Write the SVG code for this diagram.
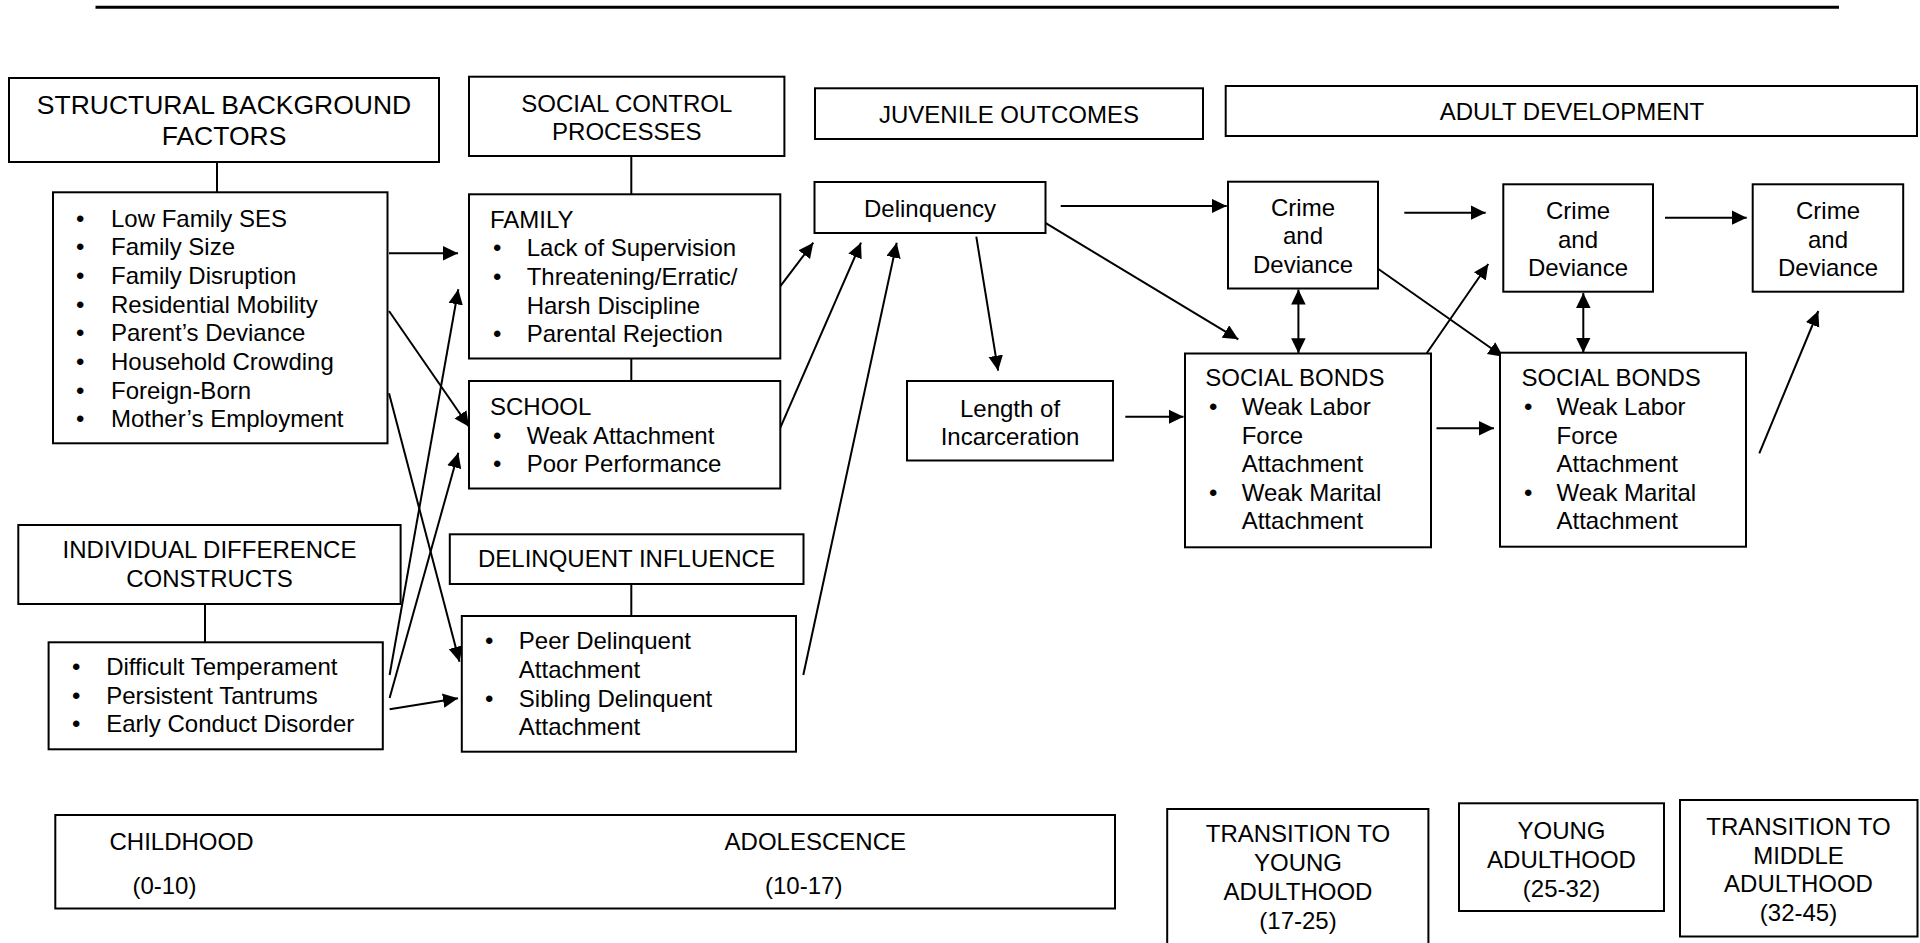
<svg xmlns="http://www.w3.org/2000/svg" width="1920" height="943" viewBox="0 0 1920 943">
<defs>
<marker id="ah" markerUnits="userSpaceOnUse" markerWidth="16" markerHeight="16" refX="15" refY="7.25" orient="auto-start-reverse">
<path d="M0,0 L15,7.25 L0,14.5 z" fill="#000"/>
</marker>
<style>
.box{fill:#fff;stroke:#000;stroke-width:2}
.t{font-family:"Liberation Sans",Arial,sans-serif;font-size:24px;fill:#000}
.c{text-anchor:middle}
.big{font-size:26.5px}
.ln{stroke:#000;stroke-width:2;fill:none}
.ar{stroke:#000;stroke-width:2;fill:none;marker-end:url(#ah)}
.dar{stroke:#000;stroke-width:2;fill:none;marker-end:url(#ah);marker-start:url(#ah)}
</style>
</defs>
<rect width="1920" height="943" fill="#fff"/>
<line x1="95.5" y1="7.3" x2="1839" y2="7.3" stroke="#000" stroke-width="3"/>

<g id="connectors">
<line class="ln" x1="217" y1="162" x2="217" y2="192.3"/>
<line class="ln" x1="631.3" y1="156" x2="631.3" y2="194.3"/>
<line class="ln" x1="631.3" y1="358.5" x2="631.3" y2="381"/>
<line class="ln" x1="205" y1="604" x2="205" y2="642.3"/>
<line class="ln" x1="631.3" y1="584" x2="631.3" y2="616"/>
<line class="ar" x1="389" y1="253.3" x2="458" y2="253.3"/>
<line class="ar" x1="389" y1="311" x2="469" y2="426.7"/>
<line class="ar" x1="389" y1="393.3" x2="459.5" y2="661.7"/>
<line class="ar" x1="389.6" y1="675" x2="458.3" y2="289.3"/>
<line class="ar" x1="389.6" y1="698" x2="458.3" y2="452.7"/>
<line class="ar" x1="389.6" y1="709.3" x2="458" y2="698.3"/>
<line class="ar" x1="780" y1="286.7" x2="813.3" y2="242.7"/>
<line class="ar" x1="780" y1="428.3" x2="861" y2="242.7"/>
<line class="ar" x1="803.3" y1="675" x2="896.7" y2="242.7"/>
<line class="ar" x1="1060.7" y1="206" x2="1226.7" y2="206"/>
<line class="ar" x1="1043.3" y1="221.7" x2="1238.3" y2="339.3"/>
<line class="ar" x1="976.3" y1="236.7" x2="998.1" y2="370.7"/>
<line class="ar" x1="1125.3" y1="416.7" x2="1183.5" y2="416.7"/>
<line class="dar" x1="1298.4" y1="289.5" x2="1298.4" y2="353.3"/>
<line class="ar" x1="1377.3" y1="268.3" x2="1503.3" y2="356.7"/>
<line class="ar" x1="1426.7" y1="353.3" x2="1488.3" y2="264"/>
<line class="dar" x1="1583.3" y1="293" x2="1583.3" y2="352.7"/>
<line class="ar" x1="1404.3" y1="212.7" x2="1485.7" y2="212.7"/>
<line class="ar" x1="1665" y1="217.7" x2="1746.7" y2="217.7"/>
<line class="ar" x1="1759.3" y1="453.3" x2="1818.3" y2="311"/>
<line class="ar" x1="1436.5" y1="428.3" x2="1494" y2="428.3"/>
</g>

<g id="structural-header">
<rect class="box" x="9" y="78" width="430" height="84"/>
<text class="t c big" x="224" y="113.5">STRUCTURAL BACKGROUND</text>
<text class="t c big" x="224" y="145">FACTORS</text>
</g>

<g id="structural-list">
<rect class="box" x="53" y="192.3" width="334.5" height="251"/>
<g class="t">
<text x="76" y="226.7">•</text><text x="111" y="226.7">Low Family SES</text>
<text x="76" y="255.4">•</text><text x="111" y="255.4">Family Size</text>
<text x="76" y="284">•</text><text x="111" y="284">Family Disruption</text>
<text x="76" y="312.7">•</text><text x="111" y="312.7">Residential Mobility</text>
<text x="76" y="341.3">•</text><text x="111" y="341.3">Parent’s Deviance</text>
<text x="76" y="370">•</text><text x="111" y="370">Household Crowding</text>
<text x="76" y="398.7">•</text><text x="111" y="398.7">Foreign-Born</text>
<text x="76" y="427.3">•</text><text x="111" y="427.3">Mother’s Employment</text>
</g>
</g>

<g id="social-control-header">
<rect class="box" x="469" y="76.7" width="315.4" height="79.3"/>
<text class="t c" x="626.8" y="111.7">SOCIAL CONTROL</text>
<text class="t c" x="626.8" y="140">PROCESSES</text>
</g>

<g id="family">
<rect class="box" x="469" y="194.3" width="311.3" height="164.2"/>
<g class="t">
<text x="490" y="227.7">FAMILY</text>
<text x="493" y="256.3">•</text><text x="526.7" y="256.3">Lack of Supervision</text>
<text x="493" y="285">•</text><text x="526.7" y="285">Threatening/Erratic/</text>
<text x="526.7" y="313.7">Harsh Discipline</text>
<text x="493" y="342.3">•</text><text x="526.7" y="342.3">Parental Rejection</text>
</g>
</g>

<g id="school">
<rect class="box" x="469" y="381" width="311.3" height="107.5"/>
<g class="t">
<text x="490" y="415">SCHOOL</text>
<text x="493" y="443.7">•</text><text x="526.7" y="443.7">Weak Attachment</text>
<text x="493" y="472.3">•</text><text x="526.7" y="472.3">Poor Performance</text>
</g>
</g>

<g id="individual-header">
<rect class="box" x="18.3" y="525" width="382.3" height="79"/>
<text class="t c" x="209.5" y="558.3">INDIVIDUAL DIFFERENCE</text>
<text class="t c" x="209.5" y="587">CONSTRUCTS</text>
</g>

<g id="individual-list">
<rect class="box" x="48.6" y="642.3" width="334.2" height="107"/>
<g class="t">
<text x="72" y="675">•</text><text x="106.2" y="675">Difficult Temperament</text>
<text x="72" y="703.7">•</text><text x="106.2" y="703.7">Persistent Tantrums</text>
<text x="72" y="732.3">•</text><text x="106.2" y="732.3">Early Conduct Disorder</text>
</g>
</g>

<g id="delinquent-influence-header">
<rect class="box" x="449.8" y="534.3" width="353.7" height="49.7"/>
<text class="t c" x="626.5" y="567.3">DELINQUENT INFLUENCE</text>
</g>

<g id="peer">
<rect class="box" x="461.8" y="616" width="334.2" height="135.7"/>
<g class="t">
<text x="485" y="649.3">•</text><text x="518.8" y="649.3">Peer Delinquent</text>
<text x="518.8" y="678">Attachment</text>
<text x="485" y="706.7">•</text><text x="518.8" y="706.7">Sibling Delinquent</text>
<text x="518.8" y="735.3">Attachment</text>
</g>
</g>

<g id="juvenile-header">
<rect class="box" x="815" y="88.3" width="388" height="50.7"/>
<text class="t c" x="1009" y="123.3">JUVENILE OUTCOMES</text>
</g>

<g id="adult-header">
<rect class="box" x="1225.7" y="86" width="691.3" height="50"/>
<text class="t c" x="1572" y="120">ADULT DEVELOPMENT</text>
</g>

<g id="delinquency">
<rect class="box" x="814.5" y="182" width="231" height="51"/>
<text class="t c" x="930" y="216.7">Delinquency</text>
</g>

<g id="crime1">
<rect class="box" x="1228" y="181.7" width="150" height="106.8"/>
<text class="t c" x="1303" y="216">Crime</text>
<text class="t c" x="1303" y="244.3">and</text>
<text class="t c" x="1303" y="272.6">Deviance</text>
</g>

<g id="crime2">
<rect class="box" x="1503.3" y="184.3" width="149.7" height="107.4"/>
<text class="t c" x="1578" y="219.3">Crime</text>
<text class="t c" x="1578" y="247.6">and</text>
<text class="t c" x="1578" y="275.9">Deviance</text>
</g>

<g id="crime3">
<rect class="box" x="1752.7" y="184.3" width="150.5" height="107.4"/>
<text class="t c" x="1828" y="219.3">Crime</text>
<text class="t c" x="1828" y="247.6">and</text>
<text class="t c" x="1828" y="275.9">Deviance</text>
</g>

<g id="length">
<rect class="box" x="907" y="381" width="206" height="79.5"/>
<text class="t c" x="1010" y="416.7">Length of</text>
<text class="t c" x="1010" y="444.7">Incarceration</text>
</g>

<g id="social-bonds-1">
<rect class="box" x="1185" y="353.5" width="246" height="193.8"/>
<g class="t">
<text x="1205.3" y="386">SOCIAL BONDS</text>
<text x="1209" y="415">•</text><text x="1241.7" y="415">Weak Labor</text>
<text x="1241.7" y="443.5">Force</text>
<text x="1241.7" y="472">Attachment</text>
<text x="1209" y="500.5">•</text><text x="1241.7" y="500.5">Weak Marital</text>
<text x="1241.7" y="529">Attachment</text>
</g>
</g>

<g id="social-bonds-2">
<rect class="box" x="1500" y="352.7" width="246" height="194"/>
<g class="t">
<text x="1521.6" y="386">SOCIAL BONDS</text>
<text x="1524" y="415">•</text><text x="1556.5" y="415">Weak Labor</text>
<text x="1556.5" y="443.5">Force</text>
<text x="1556.5" y="472">Attachment</text>
<text x="1524" y="500.5">•</text><text x="1556.5" y="500.5">Weak Marital</text>
<text x="1556.5" y="529">Attachment</text>
</g>
</g>

<g id="childhood-adolescence">
<rect class="box" x="55.3" y="815" width="1059.7" height="93.5"/>
<g class="t">
<text x="109.5" y="850">CHILDHOOD</text>
<text x="132.4" y="893.5">(0-10)</text>
<text x="724.6" y="850">ADOLESCENCE</text>
<text x="765" y="893.5">(10-17)</text>
</g>
</g>

<g id="transition-young">
<rect class="box" x="1167.2" y="809" width="261.2" height="160"/>
<text class="t c" x="1298" y="842">TRANSITION TO</text>
<text class="t c" x="1298" y="871">YOUNG</text>
<text class="t c" x="1298" y="900">ADULTHOOD</text>
<text class="t c" x="1298" y="929">(17-25)</text>
</g>

<g id="young-adulthood">
<rect class="box" x="1459" y="803.3" width="205" height="107.7"/>
<text class="t c" x="1561.5" y="839.3">YOUNG</text>
<text class="t c" x="1561.5" y="868">ADULTHOOD</text>
<text class="t c" x="1561.5" y="896.7">(25-32)</text>
</g>

<g id="transition-middle">
<rect class="box" x="1680" y="800" width="237.5" height="136.5"/>
<text class="t c" x="1798.5" y="835">TRANSITION TO</text>
<text class="t c" x="1798.5" y="863.5">MIDDLE</text>
<text class="t c" x="1798.5" y="892">ADULTHOOD</text>
<text class="t c" x="1798.5" y="920.5">(32-45)</text>
</g>
</svg>
